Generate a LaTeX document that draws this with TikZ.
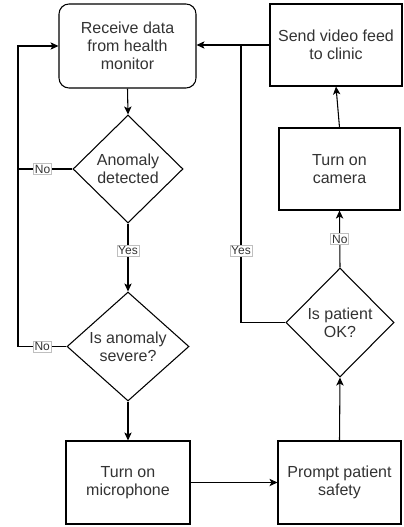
\documentclass[tikz,border=0pt]{standalone}
\usepackage{fontspec}
\setmainfont{Liberation Sans}
\usetikzlibrary{shapes.geometric,arrows.meta}
\begin{document}
\begin{tikzpicture}[x=0.75pt,y=-0.75pt,
  base/.style={draw=black, line width=0.8pt, text=black!80, align=center,
    font=\fontsize{12}{13.5}\selectfont, inner sep=0pt},
  procbox/.style={base, rectangle},
  startbox/.style={base, rectangle, rounded corners=7.5pt},
  decision/.style={base, diamond},
  arr/.style={line width=0.8pt, -{Stealth[length=6pt,width=5.5pt,inset=1.5pt]}},
  ln/.style={line width=0.8pt},
  lbl/.style={draw=black!25, fill=white, text=black!80, line width=0.4pt,
    font=\fontsize{9}{10}\selectfont, inner sep=1pt}]
\useasboundingbox[fill=white] (0,0) rectangle (403,527);

\node[startbox, minimum width=102.75pt, minimum height=63pt] (recv) at (127.5,46) {Receive data\\from health\\monitor};
\node[procbox, minimum width=99pt, minimum height=61.5pt] (send) at (336,45) {Send video feed\\to clinic};
\node[procbox, minimum width=90.75pt, minimum height=61.5pt] (cam) at (339.5,169) {Turn on\\camera};
\node[decision, minimum width=82.5pt, minimum height=81pt] (anom) at (128,169) {Anomaly\\detected};
\node[decision, minimum width=91.5pt, minimum height=81.75pt] (sev) at (128,346.5) {Is anomaly\\severe?};
\node[decision, minimum width=81pt, minimum height=81.75pt] (ok) at (340,322.5) {Is patient\\OK?};
\node[procbox, minimum width=93pt, minimum height=62.25pt] (mic) at (128,482.5) {Turn on\\microphone};
\node[procbox, minimum width=92.25pt, minimum height=62.25pt] (prompt) at (339.5,482.5) {Prompt patient\\safety};

\coordinate (lx) at (18,46);
\coordinate (rx) at (241,45);

\draw[arr] (recv.south) -- (anom.north);
\draw[arr] (sev.west) -| (lx) -- (recv.west);
\draw[ln] (anom.west) -- node[lbl, pos=0.55] (no1) {No} (anom.west -| lx);
\path (sev.west) -- node[lbl, pos=0.5] (no2) {No} (sev.west -| lx);
\draw[arr] (anom.south) -- node[lbl, pos=0.4] (yes1) {Yes} (sev.north);
\draw[arr] (sev.south) -- (mic.north);
\draw[arr] (mic.east) -- (prompt.west);
\draw[arr] (prompt.north) -- (ok.south);
\draw[arr] (ok.north) -- node[lbl] (no3) {No} (cam.south);
\draw[arr] (cam.north) -- (send.south);
\draw[arr] (send.west) -- (send.west -| recv.east);
\draw[ln] (ok.west) -| node[lbl, pos=0.63] (yes2) {Yes} (rx);
\end{tikzpicture}
\end{document}
